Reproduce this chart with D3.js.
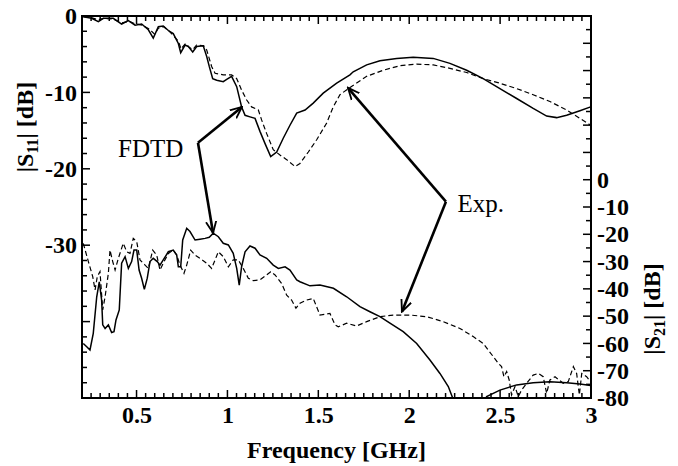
<!DOCTYPE html>
<html>
<head>
<meta charset="utf-8">
<script src="https://cdn.jsdelivr.net/npm/d3@7"></script>
<style>
  body { margin: 0; background: #fff; }
  text { font-family: "Liberation Serif", "Times New Roman", serif; }
</style>
</head>
<body>
<svg width="678" height="466"></svg>
<script>
// S11 (left axis), frequency in GHz, magnitude in dB
const s11FdtdF = [0.207,0.253,0.29,0.317,0.372,0.418,0.455,0.492,0.528,0.565,0.592,0.62,0.647,0.675,0.702,0.73,0.743,0.767,0.785,0.809,0.831,0.867,0.886,0.9,0.919,0.941,0.977,0.996,1.023,1.051,1.078,1.097,1.124,1.152,1.179,1.207,1.238,1.271,1.307,1.344,1.381,1.427,1.472,1.527,1.601,1.674,1.692,1.766,1.839,1.931,2.022,2.132,2.224,2.316,2.407,2.499,2.591,2.682,2.756,2.811,2.866,2.939,2.998]
const s11FdtdDb = [-0.1,-0.3,-0.75,-0.3,-0.3,-1.05,-0.6,-1.2,-1.05,-1.8,-2.9,-1.4,-1.3,-1.9,-2.3,-3.6,-4.8,-3.8,-4.0,-4.7,-4.0,-3.9,-5.3,-6.6,-8.2,-8.4,-8.6,-8.3,-7.9,-9.25,-11.9,-13.0,-13.2,-13.4,-15.1,-16.7,-18.4,-17.8,-16.0,-14.3,-12.7,-12.3,-11.4,-10.1,-8.8,-7.7,-7.3,-6.4,-5.85,-5.55,-5.4,-5.55,-6.2,-7.1,-8.2,-9.5,-10.8,-12.1,-13.1,-13.3,-13.0,-12.4,-11.9]

const s11ExpF = [0.207,0.25,0.29,0.32,0.37,0.42,0.46,0.49,0.53,0.57,0.6,0.62,0.65,0.68,0.7,0.73,0.745,0.77,0.79,0.81,0.83,0.87,0.886,0.913,0.932,0.977,1.023,1.051,1.078,1.106,1.133,1.17,1.188,1.216,1.252,1.289,1.326,1.372,1.399,1.445,1.491,1.546,1.582,1.619,1.665,1.766,1.857,1.949,2.041,2.132,2.224,2.316,2.407,2.499,2.591,2.682,2.774,2.866,2.939,2.998]
const s11ExpDb = [-0.1,-0.2,-0.5,-0.3,-0.4,-0.9,-0.7,-1.0,-1.2,-1.7,-2.4,-1.6,-1.4,-2.0,-2.5,-3.3,-4.3,-3.6,-4.1,-4.4,-3.8,-3.9,-4.45,-6.6,-7.5,-7.7,-7.7,-8.2,-9.7,-11.0,-11.9,-12.3,-13.6,-15.4,-17.5,-18.2,-18.8,-19.7,-19.3,-17.8,-16.2,-14.0,-11.9,-10.3,-9.5,-7.9,-7.1,-6.5,-6.3,-6.4,-6.85,-7.4,-8.2,-8.8,-9.5,-10.3,-11.2,-12.3,-13.4,-14.3]

// S21 (right axis)
const s21FdtdF = [0.207,0.226,0.244,0.262,0.281,0.295,0.308,0.314,0.327,0.345,0.363,0.376,0.387,0.405,0.418,0.437,0.455,0.473,0.486,0.501,0.514,0.528,0.543,0.559,0.574,0.592,0.614,0.629,0.647,0.675,0.702,0.721,0.73,0.743,0.754,0.776,0.794,0.822,0.849,0.877,0.9,0.922,0.95,0.977,1.005,1.032,1.051,1.065,1.078,1.097,1.124,1.152,1.179,1.216,1.252,1.28,1.317,1.344,1.381,1.399,1.454,1.509,1.583,1.656,1.729,1.784,1.839,1.894,1.967,2.041,2.114,2.169,2.215,2.242,2.3,2.38,2.426,2.499,2.591,2.682,2.774,2.866,2.939,2.998]
const s21FdtdDb = [-60.0,-61.2,-62.4,-56.3,-42.9,-37.4,-44.1,-53.2,-54.5,-53.2,-56.0,-55.7,-51.4,-47.7,-30.6,-28.2,-32.5,-30.0,-25.8,-25.8,-33.1,-36.1,-40.2,-36.1,-30.0,-28.8,-30.0,-31.3,-29.4,-26.4,-25.8,-27.6,-31.9,-31.9,-22.1,-17.8,-19.0,-22.1,-21.8,-21.5,-21.1,-19.6,-20.9,-23.3,-23.9,-27.0,-32.5,-38.6,-31.9,-26.4,-24.3,-25.1,-27.6,-28.8,-31.3,-32.5,-31.9,-33.1,-36.7,-37.4,-38.9,-38.6,-39.8,-42.9,-46.5,-48.4,-50.2,-52.6,-55.7,-60.0,-66.1,-71.0,-75.8,-80.5,-90,-86,-79.5,-77.1,-75.2,-74.4,-74.0,-74.4,-74.9,-75.4]

const s21ExpF = [0.207,0.235,0.259,0.272,0.284,0.299,0.314,0.327,0.345,0.354,0.369,0.382,0.4,0.427,0.446,0.464,0.482,0.501,0.519,0.547,0.565,0.589,0.611,0.629,0.647,0.675,0.702,0.721,0.739,0.761,0.776,0.798,0.822,0.849,0.886,0.913,0.932,0.95,0.977,1.005,1.032,1.06,1.087,1.115,1.142,1.179,1.216,1.238,1.262,1.298,1.326,1.353,1.377,1.399,1.436,1.472,1.509,1.564,1.592,1.61,1.656,1.711,1.766,1.839,1.912,2.004,2.096,2.187,2.279,2.352,2.407,2.462,2.49,2.508,2.521,2.536,2.55,2.563,2.582,2.6,2.618,2.646,2.682,2.71,2.737,2.756,2.774,2.802,2.847,2.875,2.903,2.921,2.936,2.949,2.976,2.998]
const s21ExpDb = [-23.3,-30.0,-35.5,-40.4,-35.5,-33.7,-47.7,-42.9,-34.3,-25.8,-30.0,-33.1,-28.8,-23.3,-26.4,-27.0,-21.5,-22.7,-29.4,-31.3,-32.5,-25.8,-27.6,-33.1,-30.6,-27.0,-25.8,-27.6,-31.3,-34.3,-31.3,-25.8,-27.6,-28.8,-30.6,-32.5,-29.4,-26.4,-28.2,-31.9,-29.4,-29.4,-32.5,-36.1,-37.0,-36.7,-34.9,-33.7,-34.9,-38.0,-42.3,-44.1,-47.1,-45.3,-44.1,-43.5,-49.6,-49.0,-53.2,-53.9,-52.6,-53.6,-52.0,-50.2,-49.6,-49.6,-50.2,-52.0,-54.5,-57.5,-60.0,-64.8,-67.3,-68.5,-72.2,-70.3,-73.4,-78.9,-75.8,-79.5,-77.1,-74.6,-71.6,-71.0,-72.2,-78.3,-73.4,-72.2,-74.6,-74.0,-68.5,-71.0,-78.9,-71.0,-72.2,-74.0]

const xTicks = [0.5, 1, 1.5, 2, 2.5, 3]
const leftTicks = [0, -10, -20, -30]
const rightTicks = [0, -10, -20, -30, -40, -50, -60, -70, -80]

// annotations: [label, text pos, vertex, targets] in (GHz, S11 dB)
const annotations = [
  { label: "FDTD", text: [0.398, -18.4], vertex: [0.838, -16.6], targets: [[1.08, -11.9], [0.921, -28.4]] },
  { label: "Exp.", text: [2.265, -25.6], vertex: [2.202, -24.3], targets: [[1.663, -9.4], [1.96, -38.7]] }
]

const svg = d3.select("svg")
const L = 82, R = 591, T = 16, B = 398

const x = d3.scaleLinear().domain([0.2, 3]).range([L, R])
const yL = d3.scaleLinear().domain([-50, 0]).range([B, T])
const yR = d3.scaleLinear().domain([-80, 60]).range([B, T])

svg.append("defs").append("clipPath").attr("id", "clip")
  .append("rect").attr("x", L).attr("y", T).attr("width", R - L).attr("height", B - T)

const plot = svg.append("g").attr("clip-path", "url(#clip)")

const zip = (fs, vs) => fs.map((f, i) => [f, vs[i]])

const lineL = d3.line().x(d => x(d[0])).y(d => yL(d[1]))
const lineR = d3.line().x(d => x(d[0])).y(d => yR(d[1]))

plot.append("path").datum(zip(s11FdtdF, s11FdtdDb))
  .attr("d", lineL).attr("fill", "none").attr("stroke", "#000").attr("stroke-width", 1.5)
plot.append("path").datum(zip(s11ExpF, s11ExpDb))
  .attr("d", lineL).attr("fill", "none").attr("stroke", "#000").attr("stroke-width", 1.2)
  .attr("stroke-dasharray", "5,3")
plot.append("path").datum(zip(s21FdtdF, s21FdtdDb))
  .attr("d", lineR).attr("fill", "none").attr("stroke", "#000").attr("stroke-width", 1.5)
plot.append("path").datum(zip(s21ExpF, s21ExpDb))
  .attr("d", lineR).attr("fill", "none").attr("stroke", "#000").attr("stroke-width", 1.2)
  .attr("stroke-dasharray", "5,3")

// ticks pointing inward
const minorX = d3.range(0.2, 3.0001, 0.05)
const gt = svg.append("g")
minorX.forEach(v => {
  const major = Math.abs(v * 2 - Math.round(v * 2)) < 1e-6
  const len = major ? 8 : 5
  gt.append("line").attr("x1", x(v)).attr("x2", x(v)).attr("y1", B).attr("y2", B - len)
  gt.append("line").attr("x1", x(v)).attr("x2", x(v)).attr("y1", T).attr("y2", T + len)
})
d3.range(0, -50.001, -2).forEach(v => {
  const len = v % 10 === 0 ? 8 : 5
  gt.append("line").attr("x1", L).attr("x2", L + len).attr("y1", yL(v)).attr("y2", yL(v))
})
d3.range(-80, 60.001, 5).forEach(v => {
  const len = v % 10 === 0 ? 8 : 5
  gt.append("line").attr("x1", R).attr("x2", R - len).attr("y1", yR(v)).attr("y2", yR(v))
})
gt.selectAll("line").attr("stroke", "#000").attr("stroke-width", 1.5)

const styleLabels = sel => sel.selectAll("text").attr("font-size", 24).attr("font-weight", "bold")
  .attr("font-family", "Liberation Serif").attr("fill", "#000")
const plain = d => String(d)

svg.append("g").attr("transform", `translate(0,${B})`)
  .call(d3.axisBottom(x).tickValues(xTicks).tickSize(0).tickPadding(8).tickFormat(plain))
  .call(g => g.select(".domain").remove())
  .call(styleLabels)

svg.append("g").attr("transform", `translate(${L},0)`)
  .call(d3.axisLeft(yL).tickValues(leftTicks).tickSize(0).tickPadding(5).tickFormat(plain))
  .call(g => g.select(".domain").remove())
  .call(styleLabels)

svg.append("g").attr("transform", `translate(${R},0)`)
  .call(d3.axisRight(yR).tickValues(rightTicks).tickSize(0).tickPadding(6).tickFormat(plain))
  .call(g => g.select(".domain").remove())
  .call(styleLabels)

svg.append("rect").attr("x", L).attr("y", T).attr("width", R - L).attr("height", B - T)
  .attr("fill", "none").attr("stroke", "#000").attr("stroke-width", 2)

// titles
svg.append("text").attr("x", (L + R) / 2).attr("y", 458).attr("text-anchor", "middle")
  .attr("font-size", 24).attr("font-weight", "bold").text("Frequency [GHz]")

function subTitle(txt, sub, tx, ty) {
  const t = svg.append("text").attr("transform", `translate(${tx},${ty}) rotate(-90)`)
    .attr("text-anchor", "middle").attr("font-size", 24).attr("font-weight", "bold")
  t.append("tspan").text("|S")
  t.append("tspan").attr("font-size", 16).attr("dy", 5).text(sub)
  t.append("tspan").attr("dy", -5).text(txt)
}
subTitle("| [dB]", "11", 33, 127)
subTitle("| [dB]", "21", 660, 309)

// annotations
svg.select("defs").append("marker").attr("id", "head")
  .attr("viewBox", "0 0 10 10").attr("refX", 9).attr("refY", 5)
  .attr("markerWidth", 5).attr("markerHeight", 5).attr("orient", "auto")
  .attr("markerUnits", "strokeWidth")
  .append("path").attr("d", "M0,1 L9,5 L0,9").attr("fill", "none")
  .attr("stroke", "#000").attr("stroke-width", 1.4)

annotations.forEach(a => {
  svg.append("text").attr("x", x(a.text[0])).attr("y", yL(a.text[1]))
    .attr("font-size", 25).text(a.label)
  a.targets.forEach(tg => {
    svg.append("line")
      .attr("x1", x(a.vertex[0])).attr("y1", yL(a.vertex[1]))
      .attr("x2", x(tg[0])).attr("y2", yL(tg[1]))
      .attr("stroke", "#000").attr("stroke-width", 2.6)
      .attr("marker-end", "url(#head)")
  })
})
</script>
</body>
</html>
